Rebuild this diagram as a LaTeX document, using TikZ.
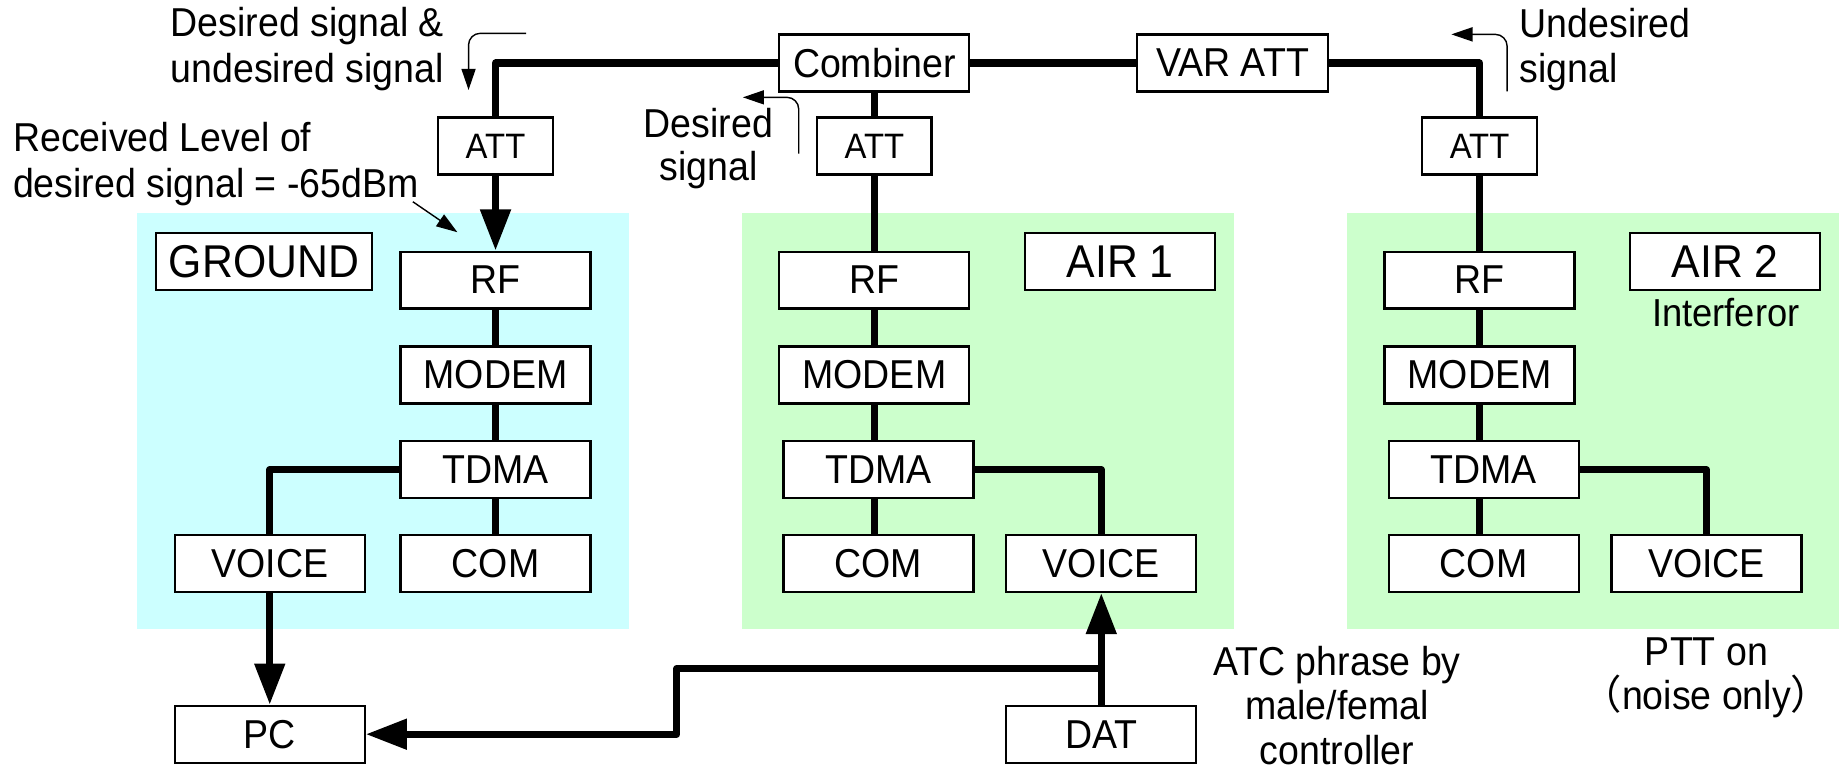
\documentclass[tikz,border=0pt]{standalone}
\usepackage{fontspec}
\setmainfont{Liberation Sans}[FakeStretch=0.93]
\newfontfamily\cjk{Noto Sans CJK SC}
\usetikzlibrary{arrows.meta}
\definecolor{groundbg}{HTML}{CCFFFF}
\definecolor{airbg}{HTML}{CCFFCC}
\begin{document}
\begin{tikzpicture}[x=1pt,y=-1pt,
  blk/.style={draw=black, line width=1.9pt, fill=white, minimum width=162pt, minimum height=48.5pt, inner sep=0pt, font=\fontsize{34.4}{40}\selectfont},
  attbox/.style={blk, minimum width=97.5pt, font=\fontsize{30.1}{36}\selectfont},
  tagbox/.style={blk, font=\fontsize{39.2}{46}\selectfont},
  conn/.style={line width=6pt, line join=round},
  bigarrow/.style={conn, -{Triangle[length=35pt,width=25pt]}},
  note/.style={line width=1.2pt, -{Triangle[length=18pt,width=12pt]}, rounded corners=10pt},
  lbl/.style={inner sep=0pt, font=\fontsize{34.4}{40}\selectfont}
]
\useasboundingbox (0,0) rectangle (1568,657);
% backgrounds
\fill[groundbg] (116.5,182) rectangle (536.5,536.6);
\fill[airbg] (632.4,182) rectangle (1052,536.6);
\fill[airbg] (1148.5,182) rectangle (1568,536.6);

% top chain
\node[blk] (comb) at (745.5,53.7) {Combiner};
\node[blk, minimum width=162.5pt] (var) at (1051,53.7) {VAR ATT};
\node[attbox] (gatt) at (422.5,124.5) {ATT};
\node[attbox] (aatt) at (745.5,124.5) {ATT};
\node[attbox] (batt) at (1261.5,124.5) {ATT};

% ground
\node[tagbox, minimum width=184pt] (gtag) at (225,223) {GROUND};
\node[blk] (grf) at (422.5,238.8) {RF};
\node[blk] (gmod) at (422.5,319.7) {MODEM};
\node[blk] (gtdma) at (422.5,400.5) {TDMA};
\node[blk] (gcom) at (422.5,480.5) {COM};
\node[blk] (gvoice) at (230,480.5) {VOICE};
\node[blk] (pc) at (230,626) {PC};

% air 1
\node[tagbox] (atag) at (955,223) {AIR 1};
\node[blk] (arf) at (745.5,238.8) {RF};
\node[blk] (amod) at (745.5,319.7) {MODEM};
\node[blk] (atdma) at (749,400.5) {TDMA};
\node[blk] (acom) at (749,480.5) {COM};
\node[blk] (avoice) at (939,480.5) {VOICE};
\node[blk] (dat) at (939,626) {DAT};

% air 2
\node[tagbox] (btag) at (1471,223) {AIR 2};
\node[lbl, anchor=base, font=\fontsize{33.3}{39}\selectfont] (intf) at (1471.5,278) {Interferor};
\node[blk] (brf) at (1261.5,238.8) {RF};
\node[blk] (bmod) at (1261.5,319.7) {MODEM};
\node[blk] (btdma) at (1265,400.5) {TDMA};
\node[blk] (bcom) at (1265,480.5) {COM};
\node[blk] (bvoice) at (1455,480.5) {VOICE};

% connectors
\draw[conn] (comb.west) -| (gatt.north);
\draw[conn] (comb.south) -- (aatt.north);
\draw[conn] (comb.east) -- (var.west);
\draw[conn] (var.east) -| (batt.north);
\draw[bigarrow] (gatt.south) -- (grf.north);
\draw[conn] (aatt.south) -- (arf.north);
\draw[conn] (batt.south) -- (brf.north);

\draw[conn] (grf.south) -- (gmod.north);
\draw[conn] (gmod.south) -- (gtdma.north);
\draw[conn] (gtdma.south) -- (gcom.north);
\draw[conn] (gtdma.west) -| (gvoice.north);
\draw[bigarrow] (gvoice.south) -- (pc.north);

\draw[conn] (arf.south) -- (amod.north);
\draw[conn] (amod.south) -- (amod.south |- atdma.north);
\draw[conn] (amod.south |- atdma.south) -- (amod.south |- acom.north);
\draw[conn] (atdma.east) -| (avoice.north);

\draw[conn] (brf.south) -- (bmod.north);
\draw[conn] (bmod.south) -- (bmod.south |- btdma.north);
\draw[conn] (bmod.south |- btdma.south) -- (bmod.south |- bcom.north);
\draw[conn] (btdma.east) -| (bvoice.north);

\draw[bigarrow] (dat.north) -- (avoice.south);
\coordinate (jn) at (939,570);
\coordinate (bend) at (577,570);
\draw[bigarrow] (jn) -- (bend) |- (pc.east);

% labels
\node[lbl, align=center, anchor=north, font=\fontsize{34.4}{39}\selectfont] (l1) at (262,6.4) {Desired signal \&\\undesired signal};
\node[lbl, align=left, anchor=north west, font=\fontsize{34.4}{38.7}\selectfont] (l2) at (11,104.4) {Received Level of\\desired signal = -65dBm};
\node[lbl, align=center, anchor=north, font=\fontsize{34.4}{37}\selectfont] (l3) at (604,91.9) {Desired\\signal};
\node[lbl, align=left, anchor=north west, font=\fontsize{34.4}{38.3}\selectfont] (l4) at (1295.5,6.7) {Undesired\\signal};
\node[lbl, align=center, anchor=north, font=\fontsize{34.4}{37.7}\selectfont] (l5) at (1140,551) {ATC phrase by\\male/femal\\controller};
\node[lbl, align=center, anchor=north, font=\fontsize{34.4}{37}\selectfont] (l6) at (1455,543.8) {PTT on\\{\cjk （}noise only{\cjk ）}};

% annotation arrows
\coordinate (n1s) at (448.5,28.4);
\coordinate (n1e) at (399.5,76.7);
\draw[note] (n1s) -| (n1e);
\coordinate (n2s) at (352,172);
\coordinate (n2e) at (390,198);
\draw[note] (n2s) -- (n2e);
\coordinate (n3s) at (681,131);
\coordinate (n3e) at (633.4,83);
\draw[note] (n3s) |- (n3e);
\coordinate (n4s) at (1285,78);
\coordinate (n4e) at (1237.5,29.3);
\draw[note] (n4s) |- (n4e);
\end{tikzpicture}
\end{document}
